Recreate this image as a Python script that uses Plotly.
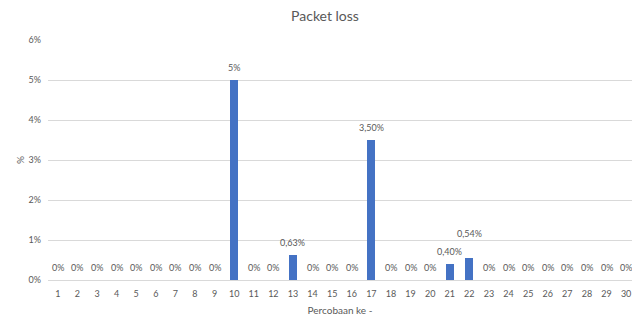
import plotly.graph_objects as go

trials = list(range(1, 31))
loss_pct = [0, 0, 0, 0, 0, 0, 0, 0, 0, 5.0,
            0, 0, 0.63, 0, 0, 0, 3.50, 0, 0, 0,
            0.40, 0.54, 0, 0, 0, 0, 0, 0, 0, 0]
value_labels = ["0%", "0%", "0%", "0%", "0%", "0%", "0%", "0%", "0%", "5%",
                "0%", "0%", "0,63%", "0%", "0%", "0%", "3,50%", "0%", "0%", "0%",
                "0,40%", "0,54%", "0%", "0%", "0%", "0%", "0%", "0%", "0%", "0%"]
y_ticks = [0, 1, 2, 3, 4, 5, 6]
y_tick_text = ["0%", "1%", "2%", "3%", "4%", "5%", "6%"]

FONT = "Lato, Open Sans, sans-serif"
GREY = "#595959"

fig = go.Figure()
fig.add_trace(go.Bar(
    x=trials, y=loss_pct, width=0.42,
    marker=dict(color="#4472c4", line=dict(width=0)),
    hoverinfo="skip",
))

# value labels above each bar; the 0,54% label sits higher to clear its neighbour
for xi, yi, lab in zip(trials, loss_pct, value_labels):
    fig.add_annotation(
        x=xi, y=yi, text=lab, showarrow=False,
        yanchor="bottom", yshift=17 if lab == "0,54%" else 5,
        font=dict(family=FONT, size=9, color=GREY),
    )

fig.update_layout(
    width=632, height=320,
    margin=dict(l=48, r=0, t=40, b=40),
    paper_bgcolor="white", plot_bgcolor="white",
    showlegend=False,
    bargap=0,
    title=dict(text="Packet loss", x=325 / 632, xanchor="center",
               y=1 - 16 / 320, yanchor="middle",
               font=dict(family=FONT, size=14, color=GREY)),
    xaxis=dict(
        range=[0.5, 30.3], tickmode="array", tickvals=trials,
        ticktext=[str(t) for t in trials],
        showgrid=False, zeroline=False, showline=False, ticks="",
        ticklabelstandoff=7,
        tickfont=dict(family=FONT, size=9, color=GREY),
        title=dict(text="Percobaan ke -", standoff=8,
                   font=dict(family=FONT, size=10, color=GREY)),
    ),
    yaxis=dict(
        range=[0, 6], tickmode="array", tickvals=y_ticks, ticktext=y_tick_text,
        showgrid=True, gridcolor="#d9d9d9", gridwidth=1,
        zeroline=True, zerolinecolor="#d9d9d9", zerolinewidth=1,
        showline=False, ticks="",
        ticklabelstandoff=6,
        tickfont=dict(family=FONT, size=9, color=GREY),
        title=dict(text="%", standoff=2,
                   font=dict(family=FONT, size=10, color=GREY)),
    ),
)

fig.write_html("out.html")
